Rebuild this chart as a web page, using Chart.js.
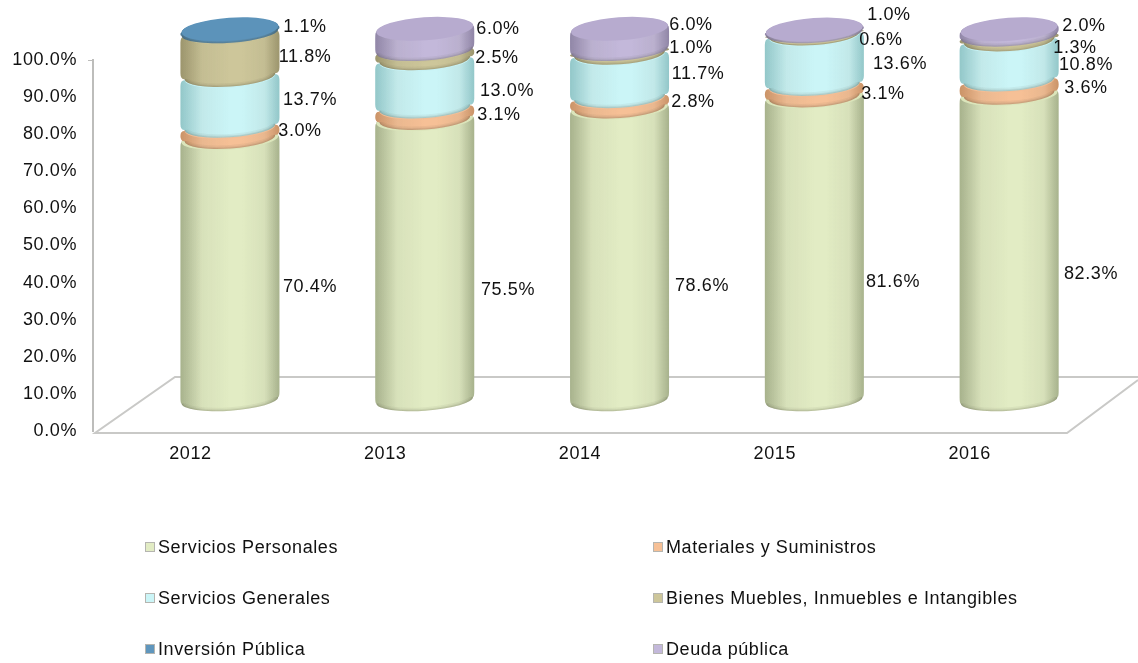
<!DOCTYPE html>
<html><head><meta charset="utf-8">
<style>html,body{margin:0;padding:0;background:#fff}#w{position:relative;width:1138px;height:663px}</style>
<script src="https://cdn.jsdelivr.net/npm/chart.js@4"></script>
</head><body><div id="w"><canvas id="c" width="1138" height="663"></canvas></div>
<script>
const categories = ['2012','2013','2014','2015','2016'];
const serviciosPersonales = [70.4,75.5,78.6,81.6,82.3];
const materiales = [3.0,3.1,2.8,3.1,3.6];
const serviciosGenerales = [13.7,13.0,11.7,13.6,10.8];
const bienes = [11.8,2.5,1.0,0.6,1.3];
const inversion = [1.1,0,0,0,0];
const deuda = [0,6.0,6.0,1.0,2.0];
const seriesNames = ['Servicios Personales','Materiales y Suministros','Servicios Generales','Bienes Muebles, Inmuebles e Intangibles','Inversión Pública','Deuda pública'];
const seriesValues = [serviciosPersonales,materiales,serviciosGenerales,bienes,inversion,deuda];

// layout-only constants
const faceColors = ['#e2ecc4','#f6c096','#cbf5f7','#cdc69a','#5f96bd','#c3b8da'];
const edgeColors = ['#b4c098','#dc9d6e','#9cd8dd','#a79f74','#4a7ea3','#9a8eb6'];
const capColors = ['#dbe5bb','#f3bd95','#c6f1f4','#c8c196','#5c93ba','#b7abcf'];
const labelCenters = [
 [[310,287],[508,290],[702,286],[893,282],[1091,274]],
 [[300,131],[499,115],[693,102],[883,94],[1086,88]],
 [[310,100],[507,91],[698,74],[900,64],[1086,65]],
 [[305,57],[497,58],[691,48],[881,40],[1075,48]],
 [[305,27],null,null,null,null],
 [null,[498,29],[691,25],[889,15],[1084,26]]
];
const legendSlots = [[145,547],[653,547],[145,598],[653,598],[145,649],[653,649]];
const FONT = 'Liberation Sans, Arial, sans-serif';
const SPACING = '0.6px';
const RY = 10.5, TILT = -4*Math.PI/180;

function segmentPath(ctx,cx,yt,yb,r,b){
  const rr=r-b, dy=rr*Math.sin(-TILT), h=yb-yt, k=Math.min(h/2,6);
  ctx.beginPath();
  ctx.ellipse(cx,yb,rr,RY,TILT,0,Math.PI,false);
  ctx.quadraticCurveTo(cx-r,yb+dy,cx-r,yb+dy-k);
  ctx.lineTo(cx-r,yt+dy+k);
  ctx.quadraticCurveTo(cx-r,yt+dy,cx-rr,yt+dy);
  ctx.ellipse(cx,yt,rr,RY,TILT,Math.PI,2*Math.PI,false);
  ctx.quadraticCurveTo(cx+r,yt-dy,cx+r,yt-dy+k);
  ctx.lineTo(cx+r,yb-dy-k);
  ctx.quadraticCurveTo(cx+r,yb-dy,cx+rr,yb-dy);
  ctx.closePath();
}
const cylinders = {
  id:'cylinders',
  beforeDraw(chart){ chart.ctx.letterSpacing = SPACING; },
  beforeDatasetsDraw(chart){
    const ctx=chart.ctx;
    // floor
    const a=chart.chartArea, yb=a.bottom+2;
    ctx.save();
    ctx.strokeStyle='#c9c9c7'; ctx.lineWidth=2;
    ctx.beginPath();
    ctx.moveTo(1138,380); ctx.lineTo(a.right,yb); ctx.lineTo(a.left+2,yb);
    ctx.lineTo(a.left+82,377); ctx.lineTo(1138,377);
    ctx.stroke();
    ctx.restore();
    // cylinders, bottom to top
    const topIdx=categories.map((_,i)=>{let t=-1;seriesValues.forEach((s,d)=>{if(s[i]>0)t=d;});return t;});
    ctx.save();
    ctx.filter='blur(0.5px)';
    categories.forEach((_,i)=>{
      seriesValues.forEach((s,d)=>{
        if(!(s[i]>0))return;
        const el=chart.getDatasetMeta(d).data[i];
        const cx=el.x, r=el.width/2, yt=el.y, yB=el.base-(d===0?0:1);
        const isTop=topIdx[i]===d, b=d===0?1:(isTop?1:4);
        const g=ctx.createLinearGradient(cx-r,0,cx+r,0);
        g.addColorStop(0,edgeColors[d]); g.addColorStop(0.22,faceColors[d]);
        g.addColorStop(0.55,faceColors[d]); g.addColorStop(0.85,faceColors[d]); g.addColorStop(1,edgeColors[d]);
        ctx.save();
        segmentPath(ctx,cx,yt,yB,r,b);
        ctx.fillStyle=g; ctx.fill();
        ctx.clip();
        // soft side and rim shading
        const sh=ctx.createLinearGradient(cx-r,0,cx+r,0);
        sh.addColorStop(0,'rgba(80,80,60,.12)'); sh.addColorStop(.5,'rgba(80,80,60,0)'); sh.addColorStop(.62,'rgba(80,80,60,0)'); sh.addColorStop(1,'rgba(80,80,60,.12)');
        ctx.fillStyle=sh; ctx.fillRect(cx-r-2,yt-RY-4,2*r+4,yB-yt+2*RY+8);
        [[7,.06],[4,.08],[2,.12]].forEach(([w,al])=>{
          ctx.beginPath(); ctx.ellipse(cx,yB,r-b,RY,TILT,0,Math.PI,false);
          ctx.lineWidth=w; ctx.strokeStyle='rgba(70,70,50,'+al+')'; ctx.stroke();
        });
        ctx.restore();
        // top face
        ctx.beginPath(); ctx.ellipse(cx,yt,r-b,RY+(isTop?1:0),TILT,0,2*Math.PI);
        ctx.fillStyle=capColors[d]; ctx.fill();
      });
    });
    ctx.restore();
  },
  beforeDatasetDraw(){ return false; },
  afterDatasetsDraw(chart){
    const ctx=chart.ctx;
    ctx.save();
    ctx.font='18px '+FONT; ctx.fillStyle='#111'; ctx.textAlign='center'; ctx.textBaseline='middle';
    seriesValues.forEach((s,d)=>s.forEach((v,i)=>{
      const p=labelCenters[d][i];
      if(v>0&&p) ctx.fillText(v.toFixed(1)+'%',p[0],p[1]);
    }));
    ctx.textAlign='left';
    seriesNames.forEach((n,d)=>{
      const [x,y]=legendSlots[d];
      ctx.fillStyle=faceColors[d]; ctx.strokeStyle='#b5b5b0'; ctx.lineWidth=1;
      ctx.fillRect(x,y-5,10,10); ctx.strokeRect(x+.5,y-4.5,9,9);
      ctx.fillStyle='#111';
      ctx.fillText(n,x+13,y+1);
    });
    ctx.restore();
  }
};
new Chart(document.getElementById('c'),{
  type:'bar',
  data:{labels:categories,datasets:seriesValues.map((s,d)=>({
    label:seriesNames[d],
    data:s.map((v,i)=>({x:i,y:v})),
    backgroundColor:faceColors[d],
    xAxisID:'x1',yAxisID:'y1',barThickness:99
  }))},
  options:{
    responsive:false,animation:false,
    layout:{padding:{top:60,right:71,left:0,bottom:0}},
    plugins:{legend:{display:false},tooltip:{enabled:false}},
    scales:{
      x:{type:'category',position:'bottom',grid:{display:false},border:{display:false},
         ticks:{color:'#111',font:{family:FONT,size:18},padding:4,maxRotation:0},
         afterFit(s){s.height=232;}},
      y:{type:'linear',position:'left',min:0,max:100,
         grid:{drawOnChartArea:false,drawTicks:true,tickLength:5,
               tickColor:c=>c.tick&&c.tick.value===100?'#bdbdbb':'rgba(0,0,0,0)'},
         border:{display:true,color:'#bdbdbb',width:2},
         ticks:{stepSize:10,color:'#111',font:{family:FONT,size:18},padding:11,
                callback:v=>v.toFixed(1)+'%'},
         afterFit(s){s.width=93;}},
      x1:{type:'linear',display:false,stacked:true,offset:false,min:-0.703,max:4.297},
      y1:{type:'linear',display:false,stacked:true,min:-8.3,max:91.7}
    }
  },
  plugins:[cylinders]
});
</script></body></html>
